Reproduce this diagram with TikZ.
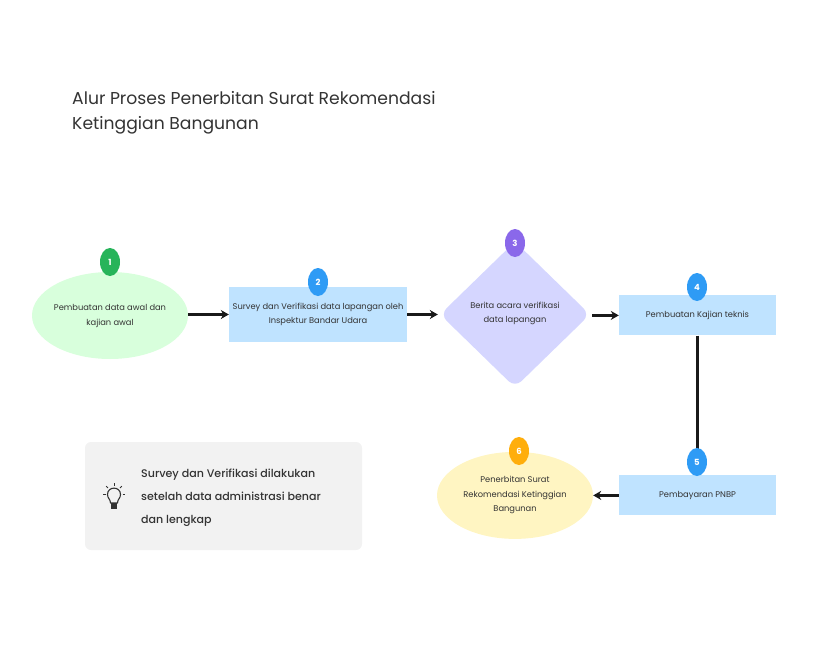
\documentclass[tikz,border=0pt]{standalone}
\usepackage{fontspec}
\setmainfont{Poppins}
\newfontfamily\notefont{Poppins Medium}
\usetikzlibrary{shapes.geometric,arrows.meta}
\definecolor{txt}{HTML}{333333}
\definecolor{lgreen}{HTML}{D8FFDC}
\definecolor{lblue}{HTML}{BFE3FF}
\definecolor{lpurple}{HTML}{D5D6FF}
\definecolor{lyellow}{HTML}{FFF5C2}
\definecolor{lgray}{HTML}{F2F2F2}
\definecolor{bgreen}{HTML}{27B45A}
\definecolor{bblue}{HTML}{2E9BF5}
\definecolor{bpurple}{HTML}{8A68EA}
\definecolor{borange}{HTML}{FFAE0C}
\tikzset{
  lbl/.style={text=txt,align=center,inner sep=0pt,font=\fontsize{8.3}{14.5}\selectfont},
  oval/.style={draw=none,ellipse,minimum width=156pt,minimum height=87pt,inner sep=0pt},
  box/.style={fill=lblue,minimum width=157pt,minimum height=40pt,inner sep=0pt},
  badge/.style={ellipse,minimum width=20pt,minimum height=28pt,inner sep=0pt,text=white,font=\fontsize{8.5}{9}\selectfont\bfseries},
  link/.style={line width=2.2pt,black!90},
  arr/.style={link,-{Stealth[length=8pt,width=9pt]}}
}
\begin{document}
\begin{tikzpicture}[x=1pt,y=-1pt]
  \useasboundingbox (0,0) rectangle (822,650);
  \node (title) at (72,112.5) [anchor=west,text=txt,align=left,inner sep=0pt,font=\fontsize{17.2}{25}\selectfont] {Alur Proses Penerbitan Surat Rekomendasi\\Ketinggian Bangunan};

  \node (start) at (110,315.5) [oval,fill=lgreen] {};
  \node (survey) at (318,314.5) [box,minimum width=178pt,minimum height=55pt] {};
  \node (berita) at (515,314.5) [diamond,fill=lpurple,rounded corners=9pt,minimum width=150pt,minimum height=146pt,inner sep=0pt] {};
  \node (kajian) at (697.5,315.4) [box] {};
  \node (pnbp) at (697.5,495.4) [box] {};
  \node (terbit) at (515,495.4) [oval,fill=lyellow] {};

  \draw[arr] (start.east |- survey) to (survey.west);
  \draw[arr,shorten >=2pt] (survey.east) to (berita.west);
  \draw[arr,shorten <=2pt] (berita.east |- kajian) to (kajian.west);
  \draw[link] (kajian) to (pnbp);
  \draw[arr] (pnbp.west) to (terbit.east);

  \node (t1) at (start) [lbl,yshift=-.5pt] {Pembuatan data awal dan\\kajian awal};
  \node (t2) at (survey) [lbl] {Survey dan Verifikasi data lapangan oleh\\Inspektur Bandar Udara};
  \node (t3) at (berita) [lbl,yshift=1pt] {Berita acara verifikasi\\data lapangan};
  \node (t4) at (kajian) [lbl] {Pembuatan Kajian teknis};
  \node (t5) at (pnbp) [lbl] {Pembayaran PNBP};
  \node (t6) at (terbit) [lbl] {Penerbitan Surat\\Rekomendasi Ketinggian\\Bangunan};

  \node (n1) at (110,262) [badge,fill=bgreen] {1};
  \node (n2) at (318,282) [badge,fill=bblue] {2};
  \node (n3) at (515,243) [badge,fill=bpurple] {3};
  \node (n4) at (697,287) [badge,fill=bblue] {4};
  \node (n5) at (697,462) [badge,fill=bblue] {5};
  \node (n6) at (519,451) [badge,fill=borange] {6};

  \node (note) at (223.5,496) [fill=lgray,rounded corners=6pt,minimum width=277pt,minimum height=108pt,inner sep=0pt] {};
  \node (notetext) at (141,497.5) [anchor=west,text=txt,align=left,inner sep=0pt,font=\fontsize{11.05}{23}\notefont] {Survey dan Verifikasi dilakukan\\setelah data administrasi benar\\dan lengkap};

  % lamp
  \draw[txt,line width=1.1pt,line join=round] (110.5,503) .. controls (110.5,499) and (107.5,498.5) .. (107.5,494.5) .. controls (107.5,486) and (120.5,486) .. (120.5,494.5) .. controls (120.5,498.5) and (117.5,499) .. (117.5,503) -- cycle;
  \fill[txt] (111,503) rectangle (117,509);
  \foreach \a in {0,45,90,135,180} {
    \draw[txt,line width=1pt] (114,494) ++(-\a:8.5) -- ++(-\a:2.5);
  }
\end{tikzpicture}
\end{document}
